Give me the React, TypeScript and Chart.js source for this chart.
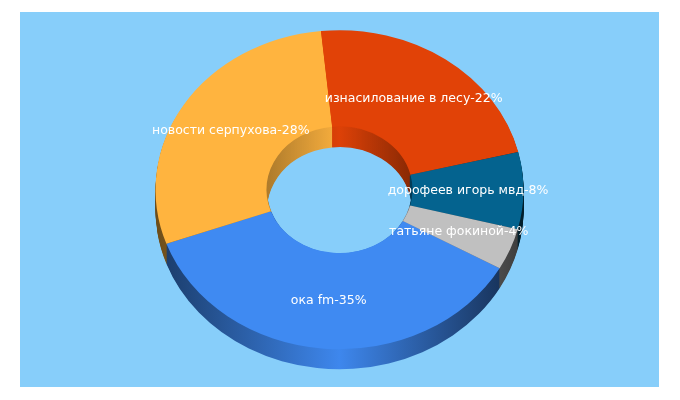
import React, { useEffect, useRef } from "react";
import { Chart, registerables } from "chart.js";

Chart.register(...registerables);

const categories = [
  "ока fm",
  "новости серпухова",
  "изнасилование в лесу",
  "дорофеев игорь мвд",
  "татьяне фокиной",
];
// slice sizes (angles), shown labels are the rounded ones below
const sliceValues = [36.3, 28.9, 22.8, 7.8, 4.2];
const shownPercents = [35, 28, 22, 8, 4];
const sliceColors = ["#3f8af2", "#ffb43f", "#e14207", "#04638f", "#c0c0c0"];

const PANEL_W = 639;
const PANEL_H = 375;
const SQUASH = 0.867; // flatten circle to an ellipse
const DEPTH = 20;
const CENTER_Y = 177.7;

const shade = (hex: string, f: number) => {
  const n = parseInt(hex.slice(1), 16);
  const r = Math.round(((n >> 16) & 255) * f);
  const g = Math.round(((n >> 8) & 255) * f);
  const b = Math.round((n & 255) * f);
  return `rgb(${r},${g},${b})`;
};

const applyTilt = (ctx: CanvasRenderingContext2D, chart: any, dy: number) => {
  const { top, bottom } = chart.chartArea;
  const cy = (top + bottom) / 2;
  ctx.translate(0, CENTER_Y + dy);
  ctx.scale(1, SQUASH);
  ctx.translate(0, -cy);
};

const tiltPlugin = {
  id: "tilt",
  beforeDatasetsDraw(chart: any) {
    const ctx: CanvasRenderingContext2D = chart.ctx;
    const arcs = chart.getDatasetMeta(0).data;

    // outer and inner walls, one layer per pixel of depth
    for (let d = DEPTH; d > 0; d--) {
      ctx.save();
      applyTilt(ctx, chart, d);
      arcs.forEach((arc: any, i: number) => {
        const { x, y, startAngle, endAngle, outerRadius, innerRadius } = arc;
        const g = ctx.createLinearGradient(x - outerRadius, 0, x + outerRadius, 0);
        g.addColorStop(0, shade(sliceColors[i], 0.42));
        g.addColorStop(0.5, shade(sliceColors[i], 0.98));
        g.addColorStop(1, shade(sliceColors[i], 0.3));
        ctx.fillStyle = g;
        ctx.beginPath();
        ctx.arc(x, y, outerRadius, startAngle, endAngle);
        ctx.arc(x, y, innerRadius, endAngle, startAngle, true);
        ctx.closePath();
        ctx.fill();
      });
      arcs.forEach((arc: any, i: number) => {
        const { x, y, startAngle, endAngle, innerRadius } = arc;
        const g = ctx.createLinearGradient(x - innerRadius, 0, x + innerRadius, 0);
        g.addColorStop(0, shade(sliceColors[i], 0.68));
        g.addColorStop(0.5, shade(sliceColors[i], 0.98));
        g.addColorStop(1, shade(sliceColors[i], 0.6));
        ctx.strokeStyle = g;
        ctx.lineWidth = 1.6;
        ctx.beginPath();
        ctx.arc(x, y, innerRadius, startAngle, endAngle);
        ctx.stroke();
      });
      ctx.restore();
    }

    // the top face is drawn by the chart itself under this transform
    ctx.save();
    applyTilt(ctx, chart, 0);
  },
  afterDatasetsDraw(chart: any) {
    chart.ctx.restore();
  },
  afterDraw(chart: any) {
    const ctx: CanvasRenderingContext2D = chart.ctx;
    const { top, bottom } = chart.chartArea;
    const cy = (top + bottom) / 2;
    ctx.save();
    ctx.font = '12.5px "DejaVu Sans"';
    ctx.fillStyle = "#ffffff";
    ctx.textAlign = "center";
    ctx.textBaseline = "middle";
    chart.getDatasetMeta(0).data.forEach((arc: any, i: number) => {
      const p = arc.getCenterPoint();
      const y = CENTER_Y + (p.y - cy) * SQUASH;
      ctx.fillText(`${categories[i]}-${shownPercents[i]}%`, p.x, y);
    });
    ctx.restore();
  },
};

const App: React.FC = () => {
  const chartRef = useRef<HTMLCanvasElement>(null);

  useEffect(() => {
    if (!chartRef.current) return;
    const myChart = new Chart(chartRef.current, {
      type: "doughnut",
      data: {
        labels: categories,
        datasets: [
          {
            data: sliceValues,
            backgroundColor: sliceColors,
            borderWidth: 0,
            clip: false,
          } as any,
        ],
      },
      options: {
        responsive: false,
        animation: false,
        events: [],
        rotation: 119.5,
        cutout: "39.7%",
        layout: { padding: { top: 3.5, bottom: 3.5 } },
        plugins: {
          legend: { display: false },
          tooltip: { enabled: false },
        },
      },
      plugins: [tiltPlugin],
    });

    return () => {
      myChart.destroy();
    };
  }, []);

  return (
    <div
      style={{
        position: "absolute",
        left: 20,
        top: 12,
        width: PANEL_W,
        height: PANEL_H,
        background: "#87cefa",
      }}
    >
      <canvas ref={chartRef} width={PANEL_W} height={PANEL_H} style={{ display: "block" }} />
    </div>
  );
};

export default App;
